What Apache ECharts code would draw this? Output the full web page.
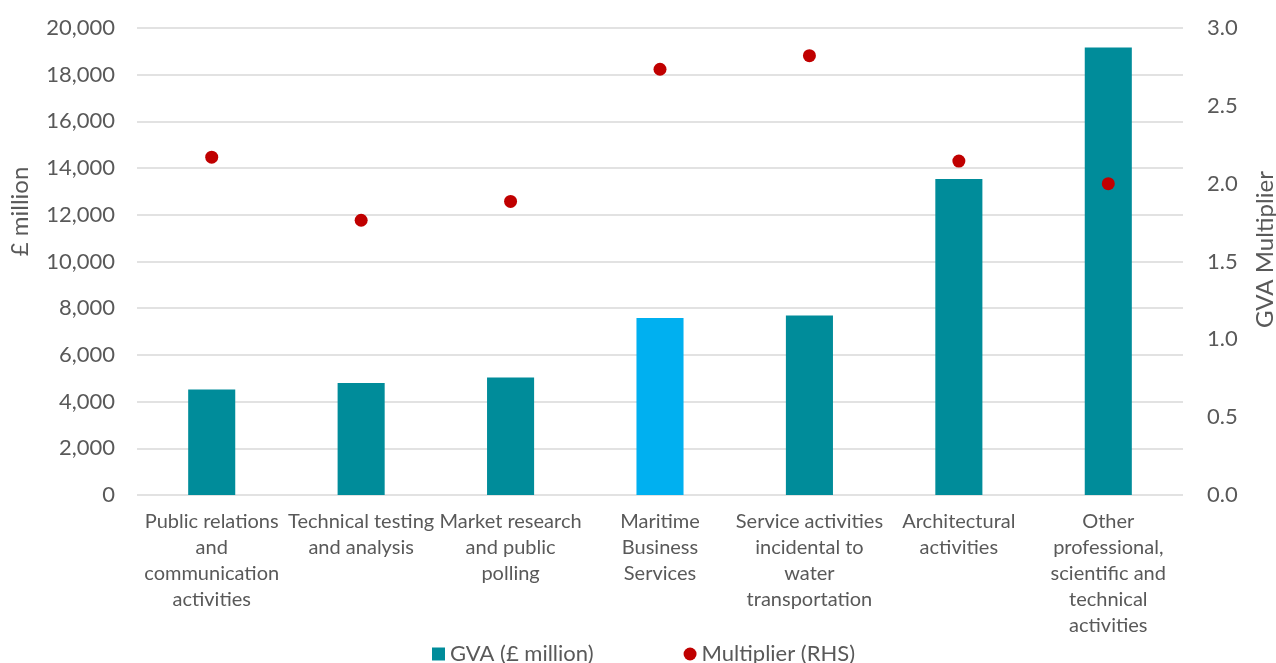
<!DOCTYPE html>
<html>
<head>
<meta charset="utf-8">
<script src="https://cdn.jsdelivr.net/npm/echarts@6/dist/echarts.min.js"></script>
<style>html,body{margin:0;padding:0;background:#fff;}#c{width:1276px;height:663px;}</style>
</head>
<body>
<div id="c"></div>
<script>
const categories = [
  "Public relations\nand\ncommunication\nactivities",
  "Technical testing\nand analysis",
  "Market research\nand public\npolling",
  "Maritime\nBusiness\nServices",
  "Service activities\nincidental to\nwater\ntransportation",
  "Architectural\nactivities",
  "Other\nprofessional,\nscientific and\ntechnical\nactivities"
];
const gva = [4520, 4800, 5030, 7575, 7690, 13530, 19170];
const multiplier = [2.17, 1.765, 1.886, 2.735, 2.822, 2.145, 2.0];
const highlightCategory = "Maritime\nBusiness\nServices";

const FONT = 'Lato, "Open Sans", sans-serif';
const TEXT = '#595959';
const chart = echarts.init(document.getElementById('c'));
chart.setOption({
  animation: false,
  textStyle: {fontFamily: FONT},
  grid: {left: 137, right: 93, top: 28, bottom: 168, containLabel: false, outerBoundsMode: 'none'},
  legend: {
    bottom: -7, left: 427, itemGap: 90, itemWidth: 13, itemHeight: 13,
    textStyle: {color: TEXT, fontSize: 22, fontFamily: FONT},
    data: [{name: 'GVA (£ million)', icon: 'rect'}, {name: 'Multiplier (RHS)', icon: 'circle'}]
  },
  xAxis: {
    type: 'category', data: categories,
    axisLine: {show: false}, axisTick: {show: false},
    axisLabel: {color: TEXT, fontSize: 20, lineHeight: 26, margin: 14, interval: 0, fontFamily: FONT}
  },
  yAxis: [
    {
      type: 'value', min: 0, max: 20000, interval: 2000,
      name: '£ million', nameLocation: 'middle', nameGap: 105, nameRotate: 90,
      nameTextStyle: {color: TEXT, fontSize: 24, padding: [0, 0, 0, 100], fontFamily: FONT},
      axisLabel: {color: TEXT, fontSize: 22, margin: 22, fontFamily: FONT,
        formatter: v => v.toLocaleString('en-GB')},
      splitLine: {lineStyle: {color: '#D9D9D9', width: 1.5}},
      axisLine: {show: false}, axisTick: {show: false}
    },
    {
      type: 'value', min: 0, max: 3, interval: 0.5,
      name: 'GVA Multiplier', nameLocation: 'middle', nameGap: 70, nameRotate: 90,
      nameTextStyle: {color: TEXT, fontSize: 24, padding: [0, 0, 0, 24], fontFamily: FONT},
      axisLabel: {color: TEXT, fontSize: 22, margin: 24, fontFamily: FONT,
        formatter: v => v.toFixed(1)},
      splitLine: {show: false},
      axisLine: {show: false}, axisTick: {show: false}
    }
  ],
  series: [
    {
      name: 'GVA (£ million)', type: 'bar', yAxisIndex: 0, barWidth: '31.5%',
      itemStyle: {color: '#008C9A'},
      data: gva.map((v, i) => categories[i] === highlightCategory
        ? {value: v, itemStyle: {color: '#00B0F0'}} : v)
    },
    {
      name: 'Multiplier (RHS)', type: 'scatter', yAxisIndex: 1, symbol: 'circle', symbolSize: 13,
      itemStyle: {color: '#C00000', opacity: 1}, z: 5,
      data: multiplier
    }
  ]
});
</script>
</body>
</html>
